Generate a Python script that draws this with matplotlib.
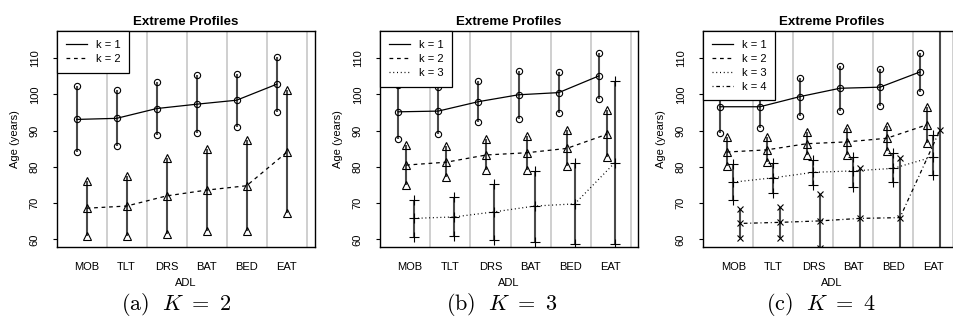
import matplotlib
matplotlib.use("Agg")
import matplotlib.pyplot as plt
import numpy as np
from matplotlib.lines import Line2D

plt.rcParams['font.family'] = ['Liberation Sans', 'DejaVu Sans']
plt.rcParams['mathtext.fontset'] = 'cm'

adl = ["MOB", "TLT", "DRS", "BAT", "BED", "EAT"]

# (a) K = 2 : mean age and interval per profile k
a_mean = [[93.1, 93.4, 96.1, 97.3, 98.4, 102.8],
          [68.6, 69.2, 72.0, 73.6, 74.8, 84.0]]
a_low = [[84.1, 85.8, 88.8, 89.3, 91.1, 95.2],
         [60.9, 61.0, 61.4, 62.4, 62.4, 67.2]]
a_high = [[102.3, 101.2, 103.3, 105.4, 105.5, 110.4],
          [76.2, 77.6, 82.5, 84.9, 87.4, 101.2]]

# (b) K = 3
b_mean = [[95.2, 95.4, 98.0, 99.9, 100.5, 105.1],
          [80.5, 81.3, 83.3, 83.9, 85.1, 89.0],
          [65.8, 66.2, 67.6, 69.2, 69.8, 81.2]]
b_low = [[87.7, 89.2, 92.4, 93.3, 94.9, 98.8],
         [75.0, 77.3, 79.1, 79.1, 80.3, 82.8],
         [60.7, 60.9, 59.8, 59.3, 58.6, 58.6]]
b_high = [[102.7, 102.1, 103.7, 106.5, 106.2, 111.3],
          [86.0, 85.9, 87.6, 88.6, 90.2, 95.7],
          [71.0, 71.8, 75.2, 78.9, 81.0, 103.7]]

# (c) K = 4
c_mean = [[96.6, 96.6, 99.4, 101.7, 102.0, 106.2],
          [84.1, 84.7, 86.4, 86.9, 87.9, 91.6],
          [75.8, 77.0, 78.5, 78.9, 79.6, 82.8],
          [64.4, 64.7, 65.1, 65.8, 66.0, 90.2]]
c_low = [[89.4, 90.8, 94.1, 95.4, 96.8, 100.8],
         [80.2, 81.4, 83.4, 83.4, 84.4, 86.5],
         [70.9, 72.9, 75.0, 74.5, 75.9, 77.8],
         [60.4, 60.5, 57.7, 45.0, 45.0, 45.0]]
c_high = [[103.5, 102.5, 104.6, 107.9, 107.0, 111.5],
          [88.2, 88.2, 89.6, 90.6, 91.4, 96.5],
          [80.8, 81.0, 82.0, 82.8, 83.8, 88.8],
          [68.5, 69.0, 72.5, 79.6, 82.5, 130.0]]

markers = ['o', '^', '+', 'x']
msizes = [4.5, 6, 7, 5]
dashes = [(None, None), (0, (3, 3)), (0, (0.8, 2.2)), (0, (0.8, 2.2, 3, 2.2))]

W, H = 954, 327
fig = plt.figure(figsize=(W / 100, H / 100), dpi=100)


def draw(left, xlim, means, lows, highs, caption, cap_x):
    ax = fig.add_axes([left / W, 1 - 247 / H, 258 / W, 216 / H])
    K = len(means)
    step = 1 / (K + 2)
    groups = np.arange(1, len(adl) + 1)
    for g in groups:
        ax.axvline(g + (K + 1) * step, color='#cccccc', lw=1.3, zorder=0)
    handles = []
    for k in range(K):
        xs = groups + k * step
        ax.vlines(xs, lows[k], highs[k], color='#4a4a4a', lw=1.5, zorder=1)
        ls = '-' if k == 0 else dashes[k]
        ax.plot(xs, means[k], ls=ls, color='black', lw=0.9, zorder=2)
        for arr in (lows[k], means[k], highs[k]):
            ax.plot(xs, arr, ls='none', marker=markers[k], ms=msizes[k],
                    mfc='none', mec='black', mew=0.8, zorder=3)
        handles.append(Line2D([], [], color='black', lw=0.9, ls=ls))
    ax.set_xlim(*xlim)
    ax.set_ylim(57.9, 117.5)
    ax.set_xticks(groups + K / 2 * step)
    ax.set_xticklabels(adl)
    ax.set_yticks(range(60, 111, 10))
    ax.tick_params(axis='x', length=0, pad=10.5, labelsize=8)
    ax.tick_params(axis='y', length=3, width=0.8, pad=9.5, labelsize=8)
    plt.setp(ax.get_yticklabels(), rotation=90, va='center')
    for s in ax.spines.values():
        s.set_linewidth(1.0)
    ax.set_title('Extreme Profiles', fontsize=9.6, fontweight='bold', pad=4)
    ax.set_xlabel('ADL', fontsize=8)
    ax.xaxis.set_label_coords(0.5, -35.7 / 216)
    ax.xaxis.label.set_va('center')
    ax.set_ylabel('Age (years)', fontsize=8)
    ax.yaxis.set_label_coords(-42 / 258, 0.5)
    ax.yaxis.label.set_va('center')
    leg = ax.legend(handles, ['k = %d' % (k + 1) for k in range(K)],
                    loc='upper left', borderaxespad=0, fancybox=False,
                    framealpha=1, edgecolor='black', fontsize=8,
                    handlelength=1.9, handletextpad=0.8, labelspacing=0.35,
                    borderpad=0.8)
    leg.get_frame().set_linewidth(0.9)
    fig.text(cap_x / W, 1 - 305 / H, caption, fontsize=16, ha='center', va='center')
    return ax


draw(57, (0.51, 6.96), a_mean, a_low, a_high, r'$\mathrm{(a)}\ \ K\ =\ 2$', 175.7)
draw(380, (0.55, 6.975), b_mean, b_low, b_high, r'$\mathrm{(b)}\ \ K\ =\ 3$', 502)
draw(703, (0.575, 7.025), c_mean, c_low, c_high, r'$\mathrm{(c)}\ \ K\ =\ 4$', 821)

fig.savefig('out.png', dpi=100)
